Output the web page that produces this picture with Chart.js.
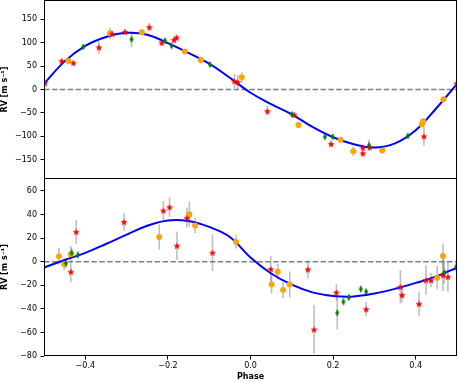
<!DOCTYPE html>
<html>
<head>
<meta charset="utf-8">
<script src="https://cdn.jsdelivr.net/npm/chart.js@4.4.1/dist/chart.umd.min.js"></script>
<style>
  body { margin: 0; background: #fff; }
  #wrap { position: relative; width: 458px; height: 382px; overflow: hidden; }
  #wrap canvas { position: absolute; left: 0; }
  #topChart { top: 0; }
  #bottomChart { top: 172px; }
</style>
</head>
<body>
<div id="wrap">
  <canvas id="topChart" width="458" height="180"></canvas>
  <canvas id="bottomChart" width="458" height="210"></canvas>
</div>
<script>
// model curves
const modelPhase = [-0.5, -0.45, -0.4, -0.35, -0.3, -0.25, -0.2, -0.15, -0.1, -0.05, 0, 0.05, 0.1, 0.15, 0.2, 0.25, 0.3, 0.35, 0.4, 0.45, 0.5];
const modelTop = [12, 60, 93, 112, 121, 117, 99, 78, 55, 25, -7, -31, -53, -80, -102, -117, -124, -115, -87, -40, 12];
const modelBottom = [-5, 1.4, 7.5, 15, 23, 30.5, 35, 34.5, 29.5, 21, 3.5, -10, -19.5, -26, -29, -29.5, -27, -23, -18, -12.5, -5];

const topYTicks = [-150, -100, -50, 0, 50, 100, 150];
const bottomYTicks = [-80, -60, -40, -20, 0, 20, 40, 60];
const phaseTicks = [-0.4, -0.2, 0, 0.2, 0.4];

// top panel
const topRedPhase = [-0.498, -0.457, -0.429, -0.367, -0.335, -0.304, -0.245, -0.215, -0.185, -0.179, -0.039, -0.031, 0.041, 0.106, 0.195, 0.272, 0.272, 0.289, 0.42, 0.499];
const topRedRV    = [14, 61, 57, 90, 119, 123, 133, 100, 106, 111, 18, 16, -46, -54, -116, -124, -136, -123, -100, 13];
const topRedErr   = [9, 6, 6, 13, 6, 6, 9, 6, 6, 6, 15, 15, 11, 6, 6, 6, 8, 6, 20, 9];

const topOrangePhase = [-0.441, -0.34, -0.263, -0.159, -0.12, -0.021, 0.116, 0.218, 0.249, 0.319, 0.415, 0.418, 0.467];
const topOrangeRV    = [61, 120, 122, 81, 63, 26, -76, -107, -132, -130, -74, -68, -21];
const topOrangeErr   = [6, 12, 7, 5, 7, 11, 6, 5, 10, 6, 7, 6, 5];

const topGreenPhase = [-0.405, -0.288, -0.207, -0.191, -0.098, 0.1, 0.18, 0.199, 0.287, 0.381];
const topGreenRV    = [91, 107, 104, 93, 53, -53, -101, -101, -119, -99];
const topGreenErr   = [5, 17, 6, 5, 5, 5, 5, 5, 12, 5];

// bottom panel
const botRedPhase = [-0.435, -0.422, -0.306, -0.211, -0.196, -0.178, -0.154, -0.092, 0.049, 0.139, 0.154, 0.208, 0.28, 0.363, 0.367, 0.408, 0.425, 0.437, 0.466, 0.478];
const botRedRV    = [-8.5, 25.3, 33.8, 43.4, 46.3, 13.6, 37.2, 7.7, -6.2, -6.5, -57.5, -26, -40.3, -21.3, -28.3, -35.7, -15.6, -15.6, -11.3, -12.8];
const botRedErr   = [9.2, 10, 7.5, 8, 8.4, 12, 8.5, 15.6, 11.3, 7.8, 20.8, 7, 5.8, 14.2, 6, 10.4, 12.5, 6, 13.5, 12.8];

const botOrangePhase = [-0.464, -0.451, -0.435, -0.221, -0.148, -0.134, -0.035, 0.051, 0.066, 0.079, 0.095, 0.452, 0.466];
const botOrangeRV    = [4.6, -2.2, 6.3, 21, 40.3, 30.7, 16.8, -19.3, -8.5, -24.1, -19.3, -13.6, 4.8];
const botOrangeErr   = [7, 5, 7, 10.6, 10.6, 6.4, 5.7, 7.8, 6.7, 7, 11, 10, 10.6];

const botGreenPhase = [-0.447, -0.433, -0.418, 0.21, 0.225, 0.238, 0.267, 0.28, 0.469, 0.498];
const botGreenRV    = [-1.4, 7.4, 5.7, -43.4, -34, -30.3, -23.2, -25.5, -9, -4.3];
const botGreenErr   = [4, 4, 3, 14, 3, 3, 3, 3, 10, 4];

Chart.defaults.font.family = 'DejaVu Sans';
Chart.defaults.font.size = 8;
Chart.defaults.color = '#000';

function pts(xs, ys) { return xs.map((x, i) => ({ x: x, y: ys[i] })); }

function starMarker(color, r) {
  const c = document.createElement('canvas');
  c.width = c.height = Math.ceil(2 * r + 2);
  const g = c.getContext('2d');
  const cx = c.width / 2, cy = c.height / 2;
  g.fillStyle = color;
  g.beginPath();
  for (let i = 0; i < 10; i++) {
    const a = -Math.PI / 2 + i * Math.PI / 5;
    const rr = i % 2 ? r * 0.42 : r;
    g.lineTo(cx + rr * Math.cos(a), cy + 0.5 + rr * Math.sin(a));
  }
  g.closePath();
  g.fill();
  return c;
}

function thinDiamond(color, w, h) {
  const c = document.createElement('canvas');
  c.width = w + 2; c.height = h + 2;
  const g = c.getContext('2d');
  const cx = c.width / 2, cy = c.height / 2;
  g.fillStyle = color;
  g.beginPath();
  g.moveTo(cx, cy - h / 2); g.lineTo(cx + w / 2, cy); g.lineTo(cx, cy + h / 2); g.lineTo(cx - w / 2, cy);
  g.closePath();
  g.fill();
  return c;
}

const redStar = starMarker('#ff0000', 3.8);
const greenDiamond = thinDiamond('#008000', 4, 7);

const panelDecor = {
  id: 'panelDecor',
  beforeDatasetsDraw(chart) {
    const { ctx, chartArea: a, scales: { x, y } } = chart;
    ctx.save();
    ctx.beginPath(); ctx.rect(a.left, a.top, a.right - a.left, a.bottom - a.top); ctx.clip();
    // error bars
    ctx.strokeStyle = 'rgba(128,128,128,0.5)';
    ctx.lineWidth = 1.6;
    chart.data.datasets.forEach(ds => {
      if (!ds.errors) return;
      ds.data.forEach((p, i) => {
        const px = x.getPixelForValue(p.x);
        ctx.beginPath();
        ctx.moveTo(px, y.getPixelForValue(p.y - ds.errors[i]));
        ctx.lineTo(px, y.getPixelForValue(p.y + ds.errors[i]));
        ctx.stroke();
      });
    });
    // zero line
    const y0 = y.getPixelForValue(0);
    ctx.strokeStyle = '#808080';
    ctx.lineWidth = 1.4;
    ctx.setLineDash([5.5, 2.4]);
    ctx.beginPath(); ctx.moveTo(a.left, y0); ctx.lineTo(a.right, y0); ctx.stroke();
    ctx.restore();
  },
  afterDraw(chart) {
    const { ctx, chartArea: a } = chart;
    ctx.save();
    ctx.strokeStyle = '#000';
    ctx.lineWidth = 1;
    ctx.strokeRect(Math.round(a.left) + 0.5, Math.round(a.top) + 0.5, Math.round(a.right - a.left) - 1, Math.round(a.bottom - a.top) - 1);
    ctx.restore();
  }
};

function makeDatasets(model, red, orange, green) {
  return [
    { data: pts(red[0], red[1]), errors: red[2], pointStyle: redStar, pointRadius: 4, order: 1, clip: 0 },
    { data: pts(orange[0], orange[1]), errors: orange[2], pointStyle: 'circle', pointRadius: 3, backgroundColor: '#ffa500', borderWidth: 0, order: 2, clip: 0 },
    { data: pts(green[0], green[1]), errors: green[2], pointStyle: greenDiamond, pointRadius: 4, order: 0, clip: 0 },
    { data: pts(modelPhase, model), showLine: true, pointRadius: 0, borderColor: '#0000ff', borderWidth: 2, tension: 0.4, order: 10, clip: 0 }
  ];
}

const fmt = v => String(v).replace('-', '\u2212');

function yScale(min, max, ticks) {
  return {
    min: min, max: max,
    afterBuildTicks: s => { s.ticks = ticks.map(v => ({ value: v })); },
    afterFit: s => { s.width = 44; s.paddingTop = 0; s.paddingBottom = 0; },
    grid: { drawOnChartArea: false, drawTicks: true, tickLength: 3.5, tickColor: '#000', tickWidth: 1 },
    border: { display: false },
    ticks: { padding: 3.5, callback: v => fmt(v) },
    title: { display: true, text: 'RV [m s\u207B\u00B9]', font: { weight: 'bold', size: 8 }, padding: { top: 0, bottom: 0 } }
  };
}

new Chart(document.getElementById('topChart'), {
  type: 'scatter',
  data: { datasets: makeDatasets(modelTop,
    [topRedPhase, topRedRV, topRedErr],
    [topOrangePhase, topOrangeRV, topOrangeErr],
    [topGreenPhase, topGreenRV, topGreenErr]) },
  options: {
    responsive: false, animation: false,
    layout: { autoPadding: false, padding: { top: 0, right: 1, bottom: 1, left: 0 } },
    plugins: { legend: { display: false }, tooltip: { enabled: false } },
    scales: {
      x: { type: 'linear', min: -0.5, max: 0.5, display: false },
      y: yScale(-191, 191, topYTicks)
    }
  },
  plugins: [panelDecor]
});

new Chart(document.getElementById('bottomChart'), {
  type: 'scatter',
  data: { datasets: makeDatasets(modelBottom,
    [botRedPhase, botRedRV, botRedErr],
    [botOrangePhase, botOrangeRV, botOrangeErr],
    [botGreenPhase, botGreenRV, botGreenErr]) },
  options: {
    responsive: false, animation: false,
    layout: { autoPadding: false, padding: { top: 6, right: 1, bottom: 0, left: 0 } },
    plugins: { legend: { display: false }, tooltip: { enabled: false } },
    scales: {
      x: {
        type: 'linear', min: -0.5, max: 0.5,
        afterBuildTicks: s => { s.ticks = phaseTicks.map(v => ({ value: v })); },
        afterFit: s => { s.height = 26; s.paddingLeft = 0; s.paddingRight = 0; },
        grid: { drawOnChartArea: false, drawTicks: true, tickLength: 3.5, tickColor: '#000', tickWidth: 1 },
        border: { display: false },
        ticks: { padding: 2, maxRotation: 0, callback: v => fmt(v.toFixed(1)) },
        title: { display: true, text: 'Phase', font: { weight: 'bold', size: 8 }, padding: { top: 0, bottom: 0 } }
      },
      y: yScale(-80, 71, bottomYTicks)
    }
  },
  plugins: [panelDecor]
});
</script>
</body>
</html>
